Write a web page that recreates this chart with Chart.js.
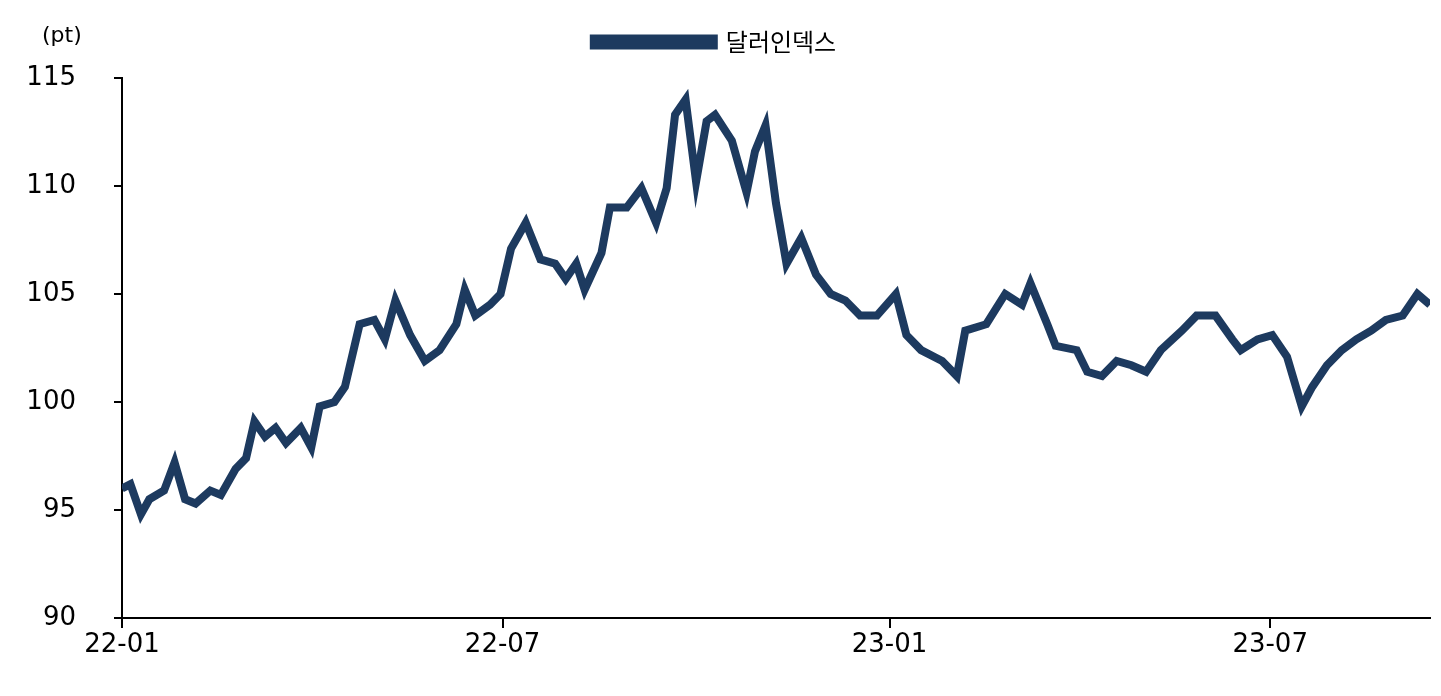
<!DOCTYPE html>
<html>
<head>
<meta charset="utf-8">
<script src="https://cdn.jsdelivr.net/npm/chart.js@4.4.0/dist/chart.umd.min.js"></script>
<style>
  html, body { margin: 0; padding: 0; background: #fff; }
  #wrap { width: 1441px; height: 696px; }
</style>
</head>
<body>
<div id="wrap"><canvas id="c"></canvas></div>
<script>
// days since 2022-01-01
const days = [0,4,9,13,20,25,30,35,42,47,54,59,63,68,73,78,85,90,94,101,106,113,120,125,130,137,144,151,159,163,168,175,180,185,192,199,206,211,216,220,228,232,240,247,254,259,263,268,273,278,282,290,297,301,306,311,316,323,330,337,344,351,359,368,373,380,390,397,401,411,420,428,432,440,444,454,459,466,473,480,487,494,504,511,520,528,532,540,547,554,561,566,573,580,587,594,601,609,616,622]
const dollarIndex = [96.0,96.2,94.8,95.5,95.9,97.2,95.5,95.3,95.9,95.7,96.9,97.4,99.1,98.4,98.8,98.1,98.8,97.9,99.8,100.0,100.7,103.6,103.8,102.9,104.7,103.1,101.9,102.4,103.6,105.2,104.0,104.5,105.0,107.1,108.3,106.6,106.4,105.7,106.4,105.2,106.9,109.0,109.0,109.9,108.3,109.9,113.3,114.0,110.2,113.0,113.3,112.1,109.7,111.6,112.8,109.2,106.4,107.6,105.9,105.0,104.7,104.0,104.0,105.0,103.1,102.4,101.9,101.2,103.3,103.6,105.0,104.5,105.5,103.6,102.6,102.4,101.4,101.2,101.9,101.7,101.4,102.4,103.3,104.0,104.0,102.9,102.4,102.9,103.1,102.1,99.8,100.7,101.7,102.4,102.9,103.3,103.8,104.0,105.0,104.5]
const xTickDays = [0,181,365,546]
const xTickLabels = ["22-01","22-07","23-01","23-07"]
const yTicks = [90,95,100,105,110,115]

const FONT = "'DejaVu Sans', 'Noto Sans CJK KR', sans-serif"

const unitLabel = {
  id: "unitLabel",
  beforeInit(chart) {
    const origFit = chart.legend.fit
    chart.legend.fit = function () {
      origFit.call(this)
      this.height += 14
    }
  },
  afterDraw(chart) {
    const ctx = chart.ctx
    ctx.save()
    ctx.font = "22px " + FONT
    ctx.fillStyle = "#000"
    ctx.textAlign = "left"
    ctx.textBaseline = "middle"
    ctx.fillText("(pt)", 42, 36)
    ctx.restore()
  }
}

new Chart(document.getElementById("c"), {
  type: "line",
  data: {
    datasets: [{
      label: "달러인덱스",
      data: days.map((d, i) => ({ x: d, y: dollarIndex[i] })),
      borderColor: "#1d3a5f",
      backgroundColor: "#1d3a5f",
      borderWidth: 8,
      pointRadius: 0,
      tension: 0,
      fill: false
    }]
  },
  options: {
    responsive: true,
    maintainAspectRatio: false,
    animation: false,
    layout: { padding: { left: 0, right: 11, top: 6, bottom: 0 } },
    plugins: {
      legend: {
        position: "top",
        labels: {
          font: { size: 24, family: "'Noto Sans CJK KR', sans-serif" },
          color: "#000",
          boxWidth: 120,
          boxHeight: 7,
          padding: 24
        }
      },
      tooltip: { enabled: false }
    },
    scales: {
      x: {
        type: "linear",
        min: 0,
        max: 622,
        afterBuildTicks(axis) { axis.ticks = xTickDays.map(v => ({ value: v })) },
        ticks: {
          callback: (v) => xTickLabels[xTickDays.indexOf(v)],
          font: { size: 26, family: FONT },
          color: "#000",
          maxRotation: 0,
          autoSkip: false,
          padding: 2
        },
        grid: { display: true, drawOnChartArea: false, drawTicks: true, tickLength: 10, color: "#000", lineWidth: 2 },
        border: { color: "#000", width: 2 },
        afterFit(axis) { axis.height = 78 }
      },
      y: {
        min: 90,
        max: 115,
        afterBuildTicks(axis) { axis.ticks = yTicks.map(v => ({ value: v })) },
        ticks: {
          font: { size: 26, family: FONT },
          color: "#000",
          padding: 38
        },
        grid: { display: true, drawOnChartArea: false, drawTicks: true, tickLength: 8, color: "#000", lineWidth: 2 },
        border: { color: "#000", width: 2 },
        afterFit(axis) { axis.width = 122 }
      }
    }
  },
  plugins: [unitLabel]
})
</script>
</body>
</html>
